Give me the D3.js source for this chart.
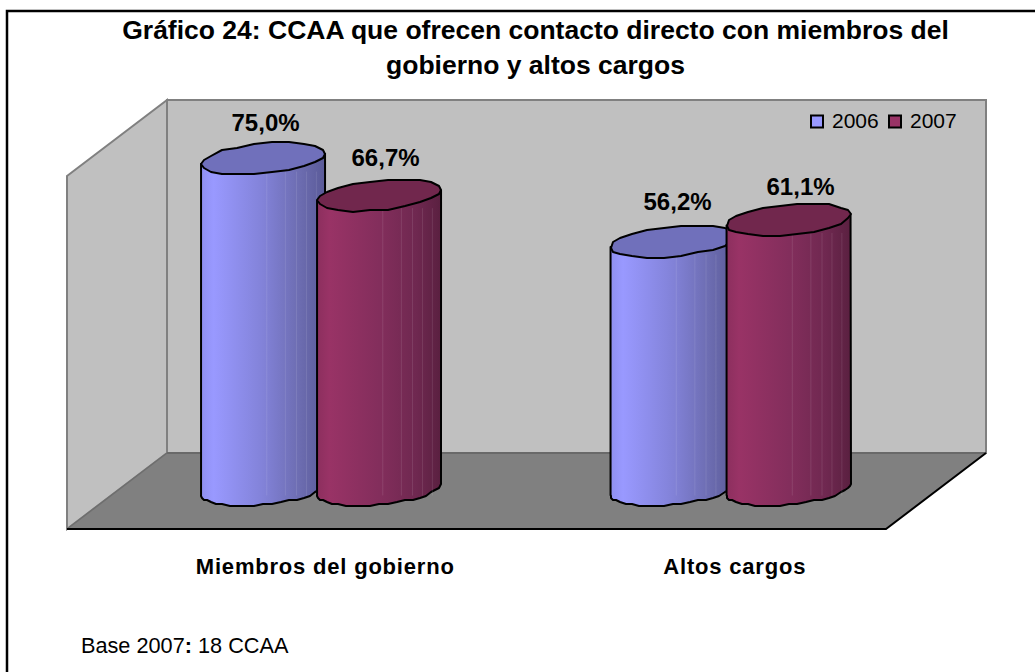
<!DOCTYPE html>
<html>
<head>
<meta charset="utf-8">
<script src="https://cdn.jsdelivr.net/npm/d3@7"></script>
<style>
html, body { margin: 0; padding: 0; background: #fff; }
svg { display: block; }
text { font-family: "Liberation Sans", Arial, sans-serif; fill: #000; }
</style>
</head>
<body>
<div id="chart"></div>
<script>
// values
const categories = ['Miembros del gobierno', 'Altos cargos'];
const years = ['2006', '2007'];
const values2006 = [75.0, 56.2];
const values2007 = [66.7, 61.1];
const dataLabels2006 = ['75,0%', '56,2%'];
const dataLabels2007 = ['66,7%', '61,1%'];
const titleLines = ['Gráfico 24: CCAA que ofrecen contacto directo con miembros del', 'gobierno y altos cargos'];

const width = 1035, height = 672;
const svg = d3.select('#chart').append('svg').attr('width', width).attr('height', height);

// outer frame, runs off the right and bottom of the picture
svg.append('rect').attr('x', 7).attr('y', 11).attr('width', 1050).attr('height', 700)
    .attr('fill', '#fff').attr('stroke', '#000').attr('stroke-width', 2.5);

// title
svg.selectAll('.title').data(titleLines).enter().append('text')
    .attr('class', 'title')
    .attr('x', 535.5).attr('y', (d, i) => 39 + i * 35)
    .attr('text-anchor', 'middle')
    .style('font-size', '26.5px').style('font-weight', 'bold')
    .text(d => d);

// 3d box
const depthX = 100, depthY = 76;
const x = d3.scaleBand().domain(categories).range([67, 886]);
const y = d3.scaleLinear().domain([0, 80]).range([529, 176]);
const x0 = x.range()[0], x1 = x.range()[1], y0 = y(0), yTop = y(80);

const pts = a => a.map(p => p.join(',')).join(' ');

svg.append('polygon') // back wall
    .attr('points', pts([[x0 + depthX, yTop - depthY], [x1 + depthX, yTop - depthY], [x1 + depthX, y0 - depthY], [x0 + depthX, y0 - depthY]]))
    .attr('fill', '#c0c0c0').attr('stroke', '#808080').attr('stroke-width', 2);
svg.append('polygon') // side wall
    .attr('points', pts([[x0, yTop], [x0 + depthX, yTop - depthY], [x0 + depthX, y0 - depthY], [x0, y0]]))
    .attr('fill', '#c0c0c0').attr('stroke', '#808080').attr('stroke-width', 2);
svg.append('polygon') // floor
    .attr('points', pts([[x0, y0], [x0 + depthX, y0 - depthY], [x1 + depthX, y0 - depthY], [x1, y0]]))
    .attr('fill', '#808080');
svg.append('line').attr('x1', x0 + depthX).attr('x2', x1 + depthX).attr('y1', y0 - depthY).attr('y2', y0 - depthY)
    .attr('stroke', '#696969').attr('stroke-width', 2);
svg.append('line').attr('x1', x0).attr('x2', x0 + depthX).attr('y1', y0).attr('y2', y0 - depthY)
    .attr('stroke', '#6e6e6e').attr('stroke-width', 1.5);
svg.append('polyline')
    .attr('points', pts([[x0, y0], [x1, y0], [x1 + depthX, y0 - depthY]]))
    .attr('fill', 'none').attr('stroke', '#000').attr('stroke-width', 2);

// gradients for the cylinders
const defs = svg.append('defs');
function bodyGradient(id, stops) {
    const g = defs.append('linearGradient').attr('id', id);
    stops.forEach(s => g.append('stop').attr('offset', s[0]).attr('stop-color', s[1]));
}
bodyGradient('body2006', [[0, '#8f8ff0'], [0.1, '#9999ff'], [0.5, '#8282d8'], [0.8, '#6c6cb0'], [1, '#5a5a98']]);
bodyGradient('body2007', [[0, '#8c2f5e'], [0.1, '#993366'], [0.5, '#832e5c'], [0.8, '#6f2850'], [1, '#5a2040']]);

const colors = { '2006': '#9999ff', '2007': '#993366' };
const topColors = { '2006': '#7070bb', '2007': '#71274d' };

const cylW = 124, rx = cylW / 2, ry = 15, skew = 5.5;
const inner = d3.scaleBand().domain(years).range([0, 240]).padding(0);

// faceted outline, like the original
function rim(cx, cy, from, to, n) {
    return d3.range(n + 1).map(i => {
        const t = from + (to - from) * i / n;
        const py = cy - skew * Math.cos(t) + ry * Math.sin(t);
        return [Math.round(cx + rx * Math.cos(t)), Math.round(py / 2) * 2];
    });
}

const line = d3.line();
const bars = [];
categories.forEach((c, i) => {
    bars.push({ cat: c, year: '2006', value: values2006[i], label: dataLabels2006[i] });
    bars.push({ cat: c, year: '2007', value: values2007[i], label: dataLabels2007[i] });
});

bars.forEach(d => {
    const left = x(d.cat) + (x.bandwidth() - 240) / 2 + depthX / 2 - 0.7 + inner(d.year) - (d.year === '2007' ? 4 : 0);
    const cx = left + rx;
    const yt = y(d.value) - 34 - skew;
    const yb = y(0) - 34 - skew;
    const g = svg.append('g');

    // body: down the left side, along the bottom rim, back up the right
    const outline = [[cx + rx, yt - skew], [cx - rx, yt + skew], [cx - rx, yb + skew]]
        .concat(rim(cx, yb, Math.PI, 0, 22))
        .concat([[cx + rx, yt - skew]]);
    g.append('path').attr('d', line(outline))
        .attr('fill', 'url(#body' + d.year + ')')
        .attr('stroke', '#000').attr('stroke-width', 2).attr('stroke-linejoin', 'round');

    // faint vertical facet streaks
    [0.53, 0.68, 0.77, 0.85, 0.93].forEach(f => {
        const sx = left + cylW * f;
        g.append('line').attr('x1', sx).attr('x2', sx)
            .attr('y1', yt + ry - 2).attr('y2', yb + 6)
            .attr('stroke', '#fff').attr('stroke-opacity', 0.1);
    });

    g.append('path').attr('d', line(rim(cx, yt, 0, 2 * Math.PI, 22)) + 'Z')
        .attr('fill', topColors[d.year])
        .attr('stroke', '#000').attr('stroke-width', 2).attr('stroke-linejoin', 'round');

    d.cx = cx; d.yt = yt;
});

// data labels on top of every bar, nudged the way they sit in the original
const labelNudgeX = [2.5, 6.5, 5, 12];
const labelNudgeY = [-27.5, -29, -31.5, -25];
bars.forEach((d, i) => {
    svg.append('text').attr('x', d.cx + labelNudgeX[i]).attr('y', d.yt + labelNudgeY[i])
        .attr('text-anchor', 'middle')
        .style('font-size', '24px').style('font-weight', 'bold')
        .text(d.label);
});

// category labels
categories.forEach(c => {
    svg.append('text')
        .attr('x', x(c) + x.bandwidth() / 2 + 53.5).attr('y', 573.5)
        .attr('text-anchor', 'middle')
        .style('font-size', '22px').style('font-weight', 'bold').style('letter-spacing', '0.8px')
        .text(c);
});

// legend
const legend = svg.append('g');
years.forEach((yr, i) => {
    const lx = 811 + i * 78;
    legend.append('rect').attr('x', lx).attr('y', 115.5).attr('width', 12).attr('height', 12)
        .attr('fill', colors[yr]).attr('stroke', '#000').attr('stroke-width', 2);
    legend.append('text').attr('x', lx + 21).attr('y', 128)
        .style('font-size', '21px').text(yr);
});

// footnote
const note = svg.append('text').attr('x', 81).attr('y', 653).style('font-size', '21.7px');
note.append('tspan').text('Base 2007');
note.append('tspan').style('font-weight', 'bold').text(':');
note.append('tspan').text(' 18 CCAA');
</script>
</body>
</html>
